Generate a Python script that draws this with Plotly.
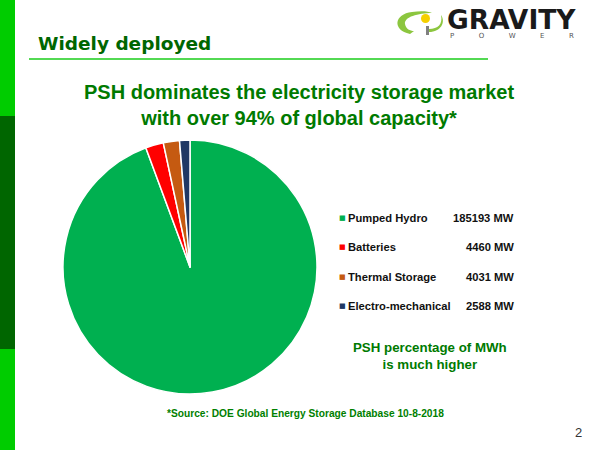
import plotly.graph_objects as go

categories = ["Pumped Hydro", "Batteries", "Thermal Storage", "Electro-mechanical"]
values_mw = [185193, 4460, 4031, 2588]
colors = ["#00B050", "#FF0000", "#C55A11", "#203864"]

W, H = 600, 450
def px(x): return x / W
def py(y): return 1 - y / H

fig = go.Figure()
fig.add_trace(go.Pie(
    labels=categories, values=values_mw, sort=False, direction="clockwise", rotation=0,
    marker=dict(colors=colors, line=dict(color="white", width=1.5)),
    textinfo="none", hoverinfo="label+value", showlegend=False,
    domain=dict(x=[px(62), px(318)], y=[py(394), py(140)]),
))

shapes = []
ann = []
# left bar
shapes.append(dict(type="rect", xref="paper", yref="paper", x0=0, x1=px(15), y0=py(116), y1=1, fillcolor="#00CC00", line_width=0, layer="below"))
shapes.append(dict(type="rect", xref="paper", yref="paper", x0=0, x1=px(15), y0=py(349), y1=py(116), fillcolor="#006600", line_width=0, layer="below"))
shapes.append(dict(type="rect", xref="paper", yref="paper", x0=0, x1=px(15), y0=0, y1=py(349), fillcolor="#00CC00", line_width=0, layer="below"))
# rule under heading
shapes.append(dict(type="line", xref="paper", yref="paper", x0=px(29), x1=px(488), y0=py(59), y1=py(59), line=dict(color="#1ACC1A", width=1.5)))

# logo icon
shapes.append(dict(type="path", xref="paper", yref="paper",
    path=f"M {px(410)} {py(34)} C {px(392)} {py(30)}, {px(394)} {py(14)}, {px(412)} {py(12)} "
         f"C {px(420)} {py(11)}, {px(428)} {py(11)}, {px(432)} {py(13)} "
         f"C {px(418)} {py(13)}, {px(404)} {py(17)}, {px(405)} {py(24)} "
         f"C {px(406)} {py(29)}, {px(410)} {py(31)}, {px(414)} {py(31)} Z",
    fillcolor="#8CC63F", line_width=0))
shapes.append(dict(type="circle", xref="paper", yref="paper", x0=px(421), x1=px(430), y0=py(23), y1=py(14), fillcolor="#F5D000", line_width=0))
shapes.append(dict(type="rect", xref="paper", yref="paper", x0=px(426), x1=px(429), y0=py(35), y1=py(26), fillcolor="#808080", line_width=0))
shapes.append(dict(type="path", xref="paper", yref="paper",
    path=f"M {px(429)} {py(29)} C {px(438)} {py(29)}, {px(443)} {py(24)}, {px(441)} {py(15)} "
         f"C {px(446)} {py(22)}, {px(441)} {py(32)}, {px(429)} {py(32)} Z",
    fillcolor="#8CC63F", line_width=0))
ann.append(dict(x=px(446), y=py(19), text="<b>GRAVITY</b>", xanchor="left", yanchor="middle", showarrow=False, borderpad=0,
                font=dict(family="DejaVu Sans", size=26.5, color="#1A1A1A")))
ann.append(dict(x=px(449), y=py(36), text="P           O           W           E           R", xanchor="left", yanchor="middle", showarrow=False,
                borderpad=0, font=dict(family="DejaVu Sans", size=7, color="#555555")))

ann.append(dict(x=px(36), y=py(43), text="<b>Widely deployed</b>", xanchor="left", yanchor="middle", showarrow=False,
                font=dict(family="DejaVu Sans", size=18.5, color="#006600")))
ann.append(dict(x=px(299), y=py(105), text="<b>PSH dominates the electricity storage market<br>with over 94% of global capacity*</b>",
                xanchor="center", yanchor="middle", showarrow=False, align="center",
                font=dict(family="Liberation Sans", size=20, color="#007A00")))

legend_y = [218, 247, 277, 306]
for cat, val, col, y in zip(categories, values_mw, colors, legend_y):
    ann.append(dict(x=px(337), y=py(y), text="■", xanchor="left", yanchor="middle", showarrow=False,
                    font=dict(family="DejaVu Sans", size=7, color=col)))
    ann.append(dict(x=px(346), y=py(y), text=f"<b>{cat}</b>", xanchor="left", yanchor="middle", showarrow=False,
                    font=dict(family="Liberation Sans", size=11.2, color="#111111")))
    ann.append(dict(x=px(516), y=py(y), text=f"<b>{val} MW</b>", xanchor="right", yanchor="middle", showarrow=False,
                    font=dict(family="Liberation Sans", size=11.2, color="#111111")))

ann.append(dict(x=px(430), y=py(356), text="<b>PSH percentage of MWh<br>is much higher</b>", xanchor="center", yanchor="middle",
                showarrow=False, align="center", font=dict(family="Liberation Sans", size=13.3, color="#007A00")))
ann.append(dict(x=px(165), y=py(413), text="<b>*Source: DOE Global Energy Storage Database 10-8-2018</b>", xanchor="left", yanchor="middle",
                showarrow=False, font=dict(family="Liberation Sans", size=10.2, color="#008000")))
ann.append(dict(x=px(584), y=py(432), text="2", xanchor="right", yanchor="middle", showarrow=False,
                font=dict(family="Liberation Sans", size=13, color="#333333")))

fig.update_layout(width=W, height=H, margin=dict(l=0, r=0, t=0, b=0), paper_bgcolor="white", plot_bgcolor="white",
                  shapes=shapes, annotations=ann, showlegend=False)
fig.write_html("out.html", config={"displayModeBar": False}, post_script="document.body.style.margin='0';")
